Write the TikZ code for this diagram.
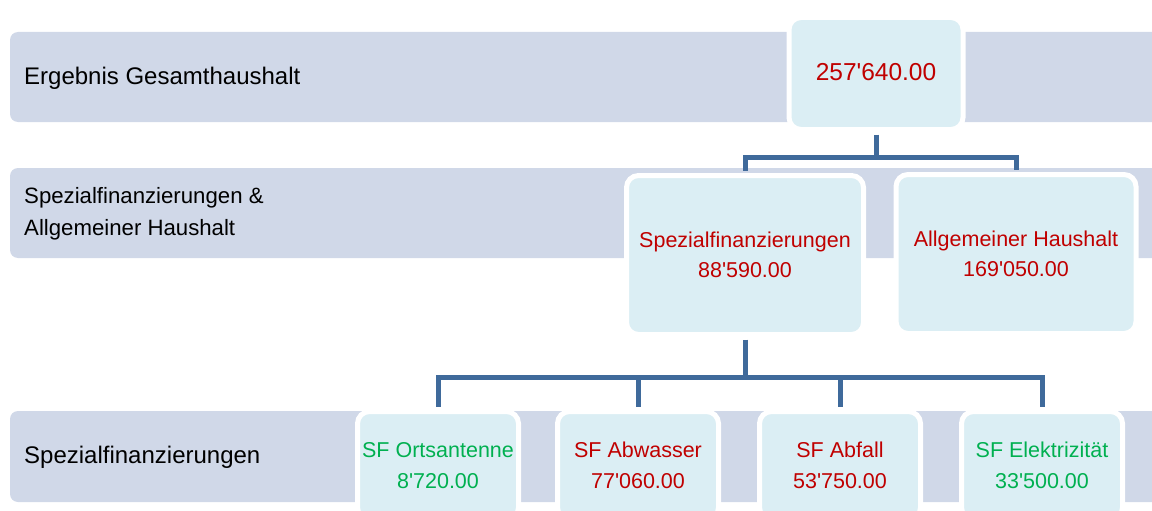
\documentclass[tikz,border=0pt]{standalone}
\usepackage{fontspec}
\setmainfont{Liberation Sans}[Ligatures=TeXOff]
\usepackage{tikz}
\definecolor{bandgray}{HTML}{D0D8E8}
\definecolor{boxblue}{HTML}{DBEEF4}
\definecolor{numred}{HTML}{C00000}
\definecolor{numgreen}{HTML}{00B050}
\definecolor{linkblue}{HTML}{3F6A9B}

\begin{document}
\begin{tikzpicture}[x=1pt,y=-1pt,
  band/.style={fill=bandgray,rounded corners=8pt},
  lvl/.style={anchor=west,align=left,inner sep=0pt,font=\fontsize{24}{32}\selectfont},
  unit/.style={draw=white,line width=5pt,fill=boxblue,rounded corners=12pt,inner sep=0pt,
               align=center,font=\fontsize{21.5}{30.5}\selectfont},
  link/.style={draw=linkblue,line width=5pt}]
%
\useasboundingbox (0,0) rectangle (1152,511);
\clip (0,0) rectangle (1152,511);
%
\path[band] (10,32) rectangle (1180,122);
\path[band] (10,168) rectangle (1180,258);
\path[band] (10,411) rectangle (1180,502);
%
\node [lvl] (lvlA) at (24,78) {Ergebnis Gesamthaushalt};
\node [lvl,font=\fontsize{22.2}{32}\selectfont] (lvlB) at (24,214) {Spezialfinanzierungen \&\\Allgemeiner Haushalt};
\node [lvl] (lvlC) at (24,457) {Spezialfinanzierungen};
%
\node [unit,minimum width=174pt,minimum height=112pt,text=numred,font=\fontsize{24.5}{30}\selectfont] (total) at (876,73.5) {\raisebox{3pt}{257'640.00}};
%
\node [unit,minimum width=237pt,minimum height=159pt,text=numred] (spf) at (745,255) {Spezialfinanzierungen\\88'590.00};
\node [unit,minimum width=240pt,minimum height=159pt,text=numred] (allg) at (1016,254) {Allgemeiner Haushalt\\169'050.00};
%
\node [unit,minimum width=161pt,minimum height=108pt,text=numgreen] (sfo) at (438,465.5) {SF Ortsantenne\\8'720.00};
\node [unit,minimum width=161pt,minimum height=108pt,text=numred] (sfw) at (638,465.5) {SF Abwasser\\77'060.00};
\node [unit,minimum width=161pt,minimum height=108pt,text=numred] (sfa) at (840,465.5) {SF Abfall\\53'750.00};
\node [unit,minimum width=161pt,minimum height=108pt,text=numgreen] (sfe) at (1042,465.5) {SF Elektrizit\"at\\33'500.00};
%
\draw [link] ([yshift=-2.5pt]total.south) -- ++(0,23) coordinate (hubA);
\foreach \n in {spf,allg}
  \draw [link] (hubA) -| ([yshift=2.5pt]\n.north);
%
\draw [link] ([yshift=-2.5pt]spf.south) -- ++(0,38) coordinate (hubB);
\foreach \n in {sfo,sfw,sfa,sfe}
  \draw [link] (hubB) -| ([yshift=2.5pt]\n.north);
\end{tikzpicture}
\end{document}
